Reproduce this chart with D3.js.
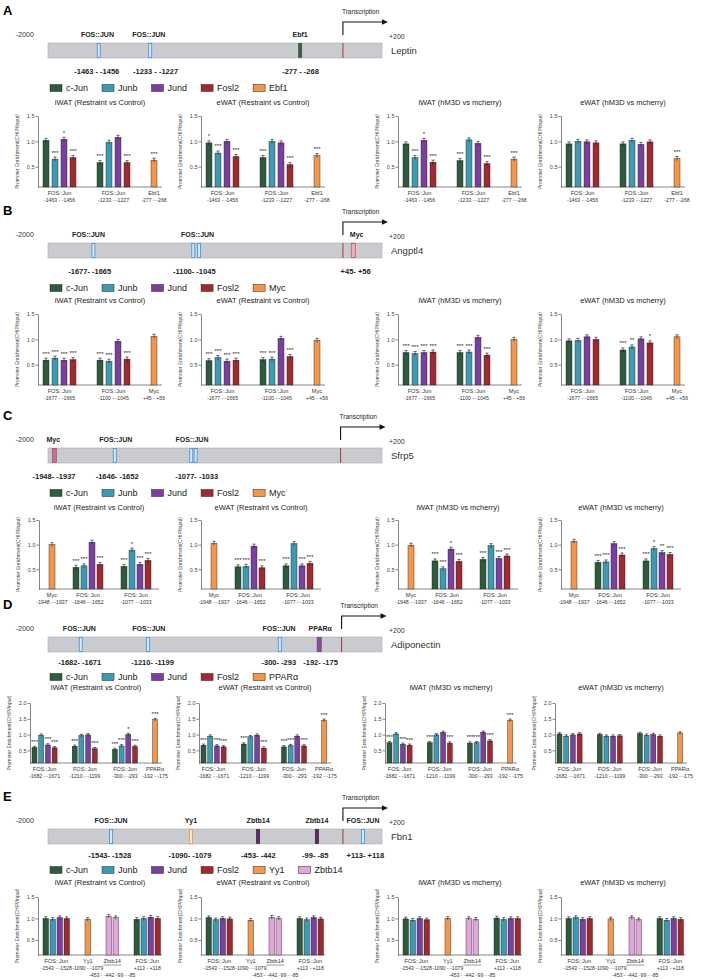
<!DOCTYPE html>
<html><head><meta charset="utf-8">
<script src="https://cdn.jsdelivr.net/npm/d3@7"></script>
<style>body{margin:0;background:#fff}svg{display:block}</style>
</head><body>
<svg id="fig" width="709" height="980"></svg>
<script>
// ================= DATA =================
const chartTitles = ["iWAT (Restraint vs Control)","eWAT (Restraint vs Control)","iWAT (hM3D vs mcherry)","eWAT (hM3D vs mcherry)"];
const yLabel = "Promoter Enrichment(CHIP/Input)";

// ---- A: Leptin ----
const leptinLegend = ["c-Jun","Junb","Jund","Fosl2","Ebf1"];
const leptinMarkAt = [0.152,0.306,0.755];
const leptinMarkType = ["FOS","FOS","Ebf1"];
const leptinSiteNames = ["FOS::JUN","FOS::JUN","Ebf1"];
const leptinSiteAt = [0.148,0.302,0.755];
const leptinSiteCoords = ["-1463 - -1456","-1233 - -1227","-277 - -268"];
const leptinCoordAt = [0.146,0.322,0.756];
const leptinGroupNames = ["FOS::Jun","FOS::Jun","Ebf1"];
const leptinGroupCoords = ["-1463 - -1456","-1233 - -1227","-277 - -268"];
const leptinBarSeries = ["c-Jun","Junb","Jund","Fosl2","c-Jun","Junb","Jund","Fosl2","Ebf1"];
const leptinBarGroup = [0,0,0,0,1,1,1,1,2];
const leptinValues = [
  [1.02,0.65,1.04,0.68, 0.58,0.98,1.08,0.58, 0.63],
  [0.97,0.77,1.00,0.70, 0.68,1.00,0.97,0.54, 0.72],
  [0.95,0.68,1.02,0.59, 0.62,1.03,0.96,0.56, 0.65],
  [0.95,1.00,0.99,0.97, 0.95,1.02,0.94,0.99, 0.66]];
const leptinStars = [
  ["","***","*","***", "***","","","***", "***"],
  ["*","***","","***", "***","","","***", "***"],
  ["","***","*","***", "***","","","***", "***"],
  ["","","","", "","","","", "***"]];

// ---- B: Angptl4 ----
const angptl4Legend = ["c-Jun","Junb","Jund","Fosl2","Myc"];
const angptl4MarkAt = [0.136,0.435,0.452,0.914];
const angptl4MarkType = ["FOS","FOS","FOS","Myc"];
const angptl4SiteNames = ["FOS::JUN","FOS::JUN","Myc"];
const angptl4SiteAt = [0.121,0.448,0.924];
const angptl4SiteCoords = ["-1677- -1665","-1100- -1045","+45- +56"];
const angptl4CoordAt = [0.125,0.438,0.921];
const angptl4GroupNames = ["FOS::Jun","FOS::Jun","Myc"];
const angptl4GroupCoords = ["-1677 - -1665","-1100 - -1045","+45 - +56"];
const angptl4BarSeries = ["c-Jun","Junb","Jund","Fosl2","c-Jun","Junb","Jund","Fosl2","Myc"];
const angptl4BarGroup = [0,0,0,0,1,1,1,1,2];
const angptl4Values = [
  [0.59,0.63,0.59,0.60, 0.59,0.57,0.96,0.61, 1.06],
  [0.58,0.64,0.57,0.59, 0.60,0.61,1.02,0.66, 0.98],
  [0.74,0.72,0.74,0.75, 0.74,0.75,1.04,0.69, 1.00],
  [0.97,0.98,1.05,1.00, 0.79,0.85,1.01,0.93, 1.05]];
const angptl4Stars = [
  ["***","***","***","***","***","***","","***",""],
  ["***","***","***","***","***","***","","***",""],
  ["***","***","***","***","***","***","","***",""],
  ["","","","","***","**","","*",""]];

// ---- C: Sfrp5 ----
const sfrp5Legend = ["c-Jun","Junb","Jund","Fosl2","Myc"];
const sfrp5MarkAt = [0.019,0.200,0.429,0.442];
const sfrp5MarkType = ["Myc2","FOS","FOS","FOS"];
const sfrp5SiteNames = ["Myc","FOS::JUN","FOS::JUN"];
const sfrp5SiteAt = [0.016,0.203,0.431];
const sfrp5SiteCoords = ["-1948- -1937","-1646- -1652","-1077- -1033"];
const sfrp5CoordAt = [0.018,0.207,0.445];
const sfrp5GroupNames = ["Myc","FOS::Jun","FOS::Jun"];
const sfrp5GroupCoords = ["-1948 - -1937","-1646 - -1652","-1077 - -1033"];
const sfrp5BarSeries = ["Myc","c-Jun","Junb","Jund","Fosl2","c-Jun","Junb","Jund","Fosl2"];
const sfrp5BarGroup = [0,1,1,1,1,2,2,2,2];
const sfrp5Values = [
  [1.00, 0.54,0.57,1.05,0.60, 0.56,0.89,0.60,0.68],
  [1.03, 0.55,0.56,0.97,0.53, 0.57,1.02,0.57,0.62],
  [0.99, 0.67,0.51,0.91,0.66, 0.70,0.98,0.72,0.77],
  [1.07, 0.64,0.65,1.02,0.79, 0.67,0.92,0.84,0.80]];
const sfrp5Stars = [
  ["","***","***","","***","***","*","***","***"],
  ["","***","***","","***","***","","***","***"],
  ["","***","***","*","***","***","","***","***"],
  ["","***","***","","***","***","*","**","***"]];

// ---- D: Adiponectin ----
const adipoLegend = ["c-Jun","Junb","Jund","Fosl2","PPARα"];
const adipoMarkAt = [0.098,0.299,0.694,0.812];
const adipoMarkType = ["FOS","FOS","FOS","PPAR"];
const adipoSiteNames = ["FOS::JUN","FOS::JUN","FOS::JUN","PPARα"];
const adipoSiteAt = [0.094,0.302,0.692,0.815];
const adipoSiteCoords = ["-1682- -1671","-1210- -1199","-300- -293","-192- -175"];
const adipoCoordAt = [0.095,0.313,0.691,0.816];
const adipoGroupNames = ["FOS::Jun","FOS::Jun","FOS::Jun","PPARα"];
const adipoGroupCoords = ["-1682 - -1671","-1210 - -1199","-300 - -293","-192 - -175"];
const adipoBarSeries = ["c-Jun","Junb","Jund","Fosl2","c-Jun","Junb","Jund","Fosl2","c-Jun","Junb","Jund","Fosl2","PPARα"];
const adipoBarGroup = [0,0,0,0,1,1,1,1,2,2,2,2,3];
const adipoValues = [
  [0.59,0.98,0.67,0.58, 0.63,0.97,0.99,0.55, 0.53,0.64,1.00,0.62, 1.47],
  [0.66,0.95,0.64,0.61, 0.70,0.93,0.98,0.57, 0.61,0.65,0.95,0.64, 1.45],
  [0.74,1.02,0.69,0.66, 0.74,0.99,1.07,0.73, 0.73,0.74,1.07,0.80, 1.45],
  [1.02,0.95,0.99,1.02, 1.00,0.95,0.95,0.96, 1.03,0.98,1.00,0.95, 1.05]];
const adipoStars = [
  ["***","","***","***","***","","","***","***","***","*","***","***"],
  ["***","","***","***","***","","","***","***","***","","***","***"],
  ["***","","***","***","***","","","***","***","***","","***","***"],
  ["","","","","","","","","","","","",""]];

// ---- E: Fbn1 ----
const fbn1Legend = ["c-Jun","Junb","Jund","Fosl2","Yy1","Zbtb14"];
const fbn1MarkAt = [0.189,0.428,0.629,0.805,0.943];
const fbn1MarkType = ["FOS","Yy1","Zbtb","Zbtb","FOS"];
const fbn1SiteNames = ["FOS::JUN","Yy1","Zbtb14","Zbtb14","FOS::JUN"];
const fbn1SiteAt = [0.189,0.428,0.629,0.805,0.943];
const fbn1SiteCoords = ["-1543- -1528","-1090- -1079","-453- -442","-99- -85","+113- +118"];
const fbn1CoordAt = [0.185,0.425,0.630,0.800,0.950];
const fbn1GroupNames = ["FOS::Jun","Yy1","Zbtb14","FOS::Jun"];
const fbn1GroupCoords = ["-1543 - -1528","-1090 - -1079","-453 - -442  -99 - -85","+113 - +118"];
const fbn1GroupUnderline = [false,false,true,false];
const fbn1BarSeries = ["c-Jun","Junb","Jund","Fosl2","Yy1","Zbtb14","Zbtb14","c-Jun","Junb","Jund","Fosl2"];
const fbn1BarGroup = [0,0,0,0,1,2,2,3,3,3,3];
const fbn1Values = [
  [1.00,0.98,1.02,1.00, 0.98, 1.05,1.02, 0.98,1.00,1.03,1.00],
  [1.02,0.97,1.00,0.99, 0.96, 1.03,1.00, 1.00,0.97,1.02,0.99],
  [0.99,0.96,1.00,0.97, 1.00, 1.00,0.98, 1.01,0.98,1.00,1.00],
  [1.00,1.02,0.98,1.00, 0.99, 1.02,0.97, 1.00,0.96,1.00,0.98]];
const fbn1Stars = [[],[],[],[]];

// ================= STYLE / LAYOUT =================
const svg = d3.select("#fig");
const FONT = "'Liberation Sans', Arial, sans-serif";
const NARROW = "'Liberation Sans Narrow', 'Liberation Sans', Arial, sans-serif";
svg.attr("font-family", FONT);

const colorOf = {"c-Jun":"#2e5b3d","Junb":"#3c9bb3","Jund":"#7a3f9f","Fosl2":"#a02a30",
  "Ebf1":"#f5964a","Myc":"#f5964a","PPARα":"#f5964a","Yy1":"#f5964a","Zbtb14":"#e3a6da"};
const markStyle = {
  FOS:{w:3,fill:"#d3e8f8",stroke:"#3e8ed6"},
  Ebf1:{w:3,fill:"#3c5a45",stroke:"#3c5a45"},
  Myc:{w:4,fill:"#eab0bf",stroke:"#c64f6d"},
  Myc2:{w:4,fill:"#c8708f",stroke:"#a8506f"},
  PPAR:{w:4,fill:"#8d4b9b",stroke:"#7a3a88"},
  Yy1:{w:3,fill:"#fde4c8",stroke:"#f0953c"},
  Zbtb:{w:3,fill:"#5b2c5f",stroke:"#4a1f4e"}};
const ERR = 0.04;

function drawSchematic(s){
  const g = svg.append("g");
  const x = d3.scaleLinear().domain([0,1]).range([48,382]);
  const by = s.barTop, bh = 15;
  g.append("text").attr("x",3).attr("y",by-28).attr("font-weight","bold").attr("font-size",13).text(s.letter);
  const tx = x(s.tssAt);
  g.append("text").attr("x",tx-1).attr("y",by-29).attr("font-size",6.5).attr("fill","#222").text("Transcription");
  g.append("path").attr("d",`M${tx},${by-8}V${by-21}H${tx+40}`).attr("fill","none").attr("stroke","#111").attr("stroke-width",1.1);
  g.append("path").attr("d",`M${tx+45},${by-21}l-6,-2.8v5.6z`).attr("fill","#111");
  g.append("text").attr("x",16).attr("y",by-6).attr("font-size",7).attr("fill","#333").text("-2000");
  g.append("text").attr("x",389).attr("y",by-4).attr("font-size",7).attr("fill","#333").text("+200");
  g.append("rect").attr("x",x(0)).attr("y",by).attr("width",x(1)-x(0)).attr("height",bh)
    .attr("fill","#c9cbce").attr("stroke","#a9acb0").attr("stroke-width",0.6);
  s.markAt.forEach((m,i)=>{
    const st = markStyle[s.markType[i]];
    g.append("rect").attr("x",x(m)-st.w/2).attr("y",by+0.5).attr("width",st.w).attr("height",bh-1)
      .attr("fill",st.fill).attr("stroke",st.stroke).attr("stroke-width",0.8);
  });
  g.append("line").attr("x1",tx).attr("x2",tx).attr("y1",by).attr("y2",by+bh).attr("stroke","#b3303c").attr("stroke-width",1);
  g.append("text").attr("x",391).attr("y",by+11).attr("font-size",9.5).attr("fill","#333").text(s.gene);
  s.siteNames.forEach((t,i)=>{
    g.append("text").attr("x",x(s.siteAt[i])).attr("y",by-6).attr("text-anchor","middle")
      .attr("font-family",NARROW).attr("font-weight","bold").attr("font-size",7).attr("fill","#222").text(t);
  });
  s.siteCoords.forEach((t,i)=>{
    g.append("text").attr("x",x(s.coordAt[i])).attr("y",by+s.coordDy).attr("text-anchor","middle")
      .attr("font-family",NARROW).attr("font-weight","bold").attr("font-size",7.5).attr("fill","#222").text(t);
  });
  let lx = 50; const cy = by+s.legendDy;
  s.legend.forEach(name=>{
    g.append("rect").attr("x",lx).attr("y",cy-3.5).attr("width",12).attr("height",7)
      .attr("fill",colorOf[name]).attr("stroke","#222").attr("stroke-width",0.5);
    const t = g.append("text").attr("x",lx+16).attr("y",cy+3.3).attr("font-size",9).attr("fill","#222").text(name);
    lx += 16 + t.node().getComputedTextLength() + 14;
  });
}

function drawCharts(c){
  c.axes.forEach((ax,ci)=>{
    const g = svg.append("g");
    const y = d3.scaleLinear().domain(c.yDomain).range([c.baseY,c.topY]);
    const nS = d3.max(c.slots);
    const xs = d3.scaleLinear().domain([0,nS]).range([ax+c.pad, ax+c.pad+nS*c.step]);
    g.append("text").attr("x",ax+c.plotW/2).attr("y",c.titleY).attr("text-anchor","middle")
      .attr("font-size",7.5).attr("fill","#222").text(chartTitles[ci]);
    const yAx = d3.axisLeft(y).tickValues(c.ticks).tickFormat(d3.format(".1f")).tickSize(2.5).tickSizeOuter(0);
    const ya = g.append("g").attr("transform",`translate(${ax},0)`).call(yAx);
    ya.select(".domain").attr("stroke","#333").attr("stroke-width",0.6);
    ya.selectAll(".tick line").attr("stroke","#333").attr("stroke-width",0.6);
    ya.selectAll(".tick text").attr("font-size",5.5).attr("fill","#444").attr("font-family",FONT).attr("x",-3.5);
    g.append("text").attr("transform",`translate(${ax-19},${(c.baseY+c.topY)/2}) rotate(-90)`)
      .attr("text-anchor","middle").attr("font-size",5).attr("fill","#444").text(yLabel);
    g.append("line").attr("x1",ax).attr("x2",ax+c.plotW).attr("y1",c.baseY).attr("y2",c.baseY)
      .attr("stroke","#333").attr("stroke-width",0.6);
    const vals = c.values[ci], stars = c.stars[ci] || [];
    vals.forEach((v,i)=>{
      const x0 = xs(c.slots[i]);
      g.append("rect").attr("x",x0).attr("y",y(v)).attr("width",c.barW).attr("height",c.baseY-y(v))
        .attr("fill",colorOf[c.series[i]]).attr("stroke","#1a1a1a").attr("stroke-width",0.4);
      const xm = x0 + c.barW/2;
      g.append("line").attr("x1",xm).attr("x2",xm).attr("y1",y(v-ERR)).attr("y2",y(v+ERR)).attr("stroke","#111").attr("stroke-width",0.6);
      g.append("line").attr("x1",xm-1.6).attr("x2",xm+1.6).attr("y1",y(v+ERR)).attr("y2",y(v+ERR)).attr("stroke","#111").attr("stroke-width",0.6);
      if (stars[i]) g.append("text").attr("x",xm).attr("y",y(v+ERR)-2.5).attr("text-anchor","middle")
        .attr("font-size",6).attr("fill","#222").text(stars[i]);
    });
    c.groupNames.forEach((name,gi)=>{
      const idx = c.group.map((gg,i)=>gg===gi?i:-1).filter(i=>i>=0);
      const cx = d3.mean(idx, i=>xs(c.slots[i])+c.barW/2);
      g.append("text").attr("x",cx).attr("y",c.labY[0]).attr("text-anchor","middle").attr("font-size",5.6).attr("fill","#333").text(name);
      const under = c.underline && c.underline[gi];
      if (under){
        g.append("line").attr("x1",cx-9).attr("x2",cx+9).attr("y1",c.labY[0]+2).attr("y2",c.labY[0]+2).attr("stroke","#333").attr("stroke-width",0.5);
        g.append("text").attr("x",cx).attr("y",c.labY[2]).attr("text-anchor","middle").attr("font-size",5.2).attr("fill","#333").text(c.groupCoords[gi]);
      } else {
        g.append("text").attr("x",cx).attr("y",c.labY[1]).attr("text-anchor","middle").attr("font-size",5.2).attr("fill","#333").text(c.groupCoords[gi]);
      }
    });
  });
}

// ---- panel A
drawSchematic({letter:"A",gene:"Leptin",barTop:43,tssAt:0.883,coordDy:31,legendDy:45,markAt:leptinMarkAt,markType:leptinMarkType,
  siteNames:leptinSiteNames,siteAt:leptinSiteAt,siteCoords:leptinSiteCoords,coordAt:leptinCoordAt,legend:leptinLegend});
drawCharts({axes:[38,201,398,561],plotW:124,pad:5,step:9,barW:6,slots:[0,1,2,3,6,7,8,9,12],
  titleY:105,yDomain:[0.1,1.5],baseY:187,topY:116,ticks:[0.5,1.0,1.5],labY:[195,202],
  values:leptinValues,stars:leptinStars,series:leptinBarSeries,group:leptinBarGroup,
  groupNames:leptinGroupNames,groupCoords:leptinGroupCoords});

// ---- panel B
drawSchematic({letter:"B",gene:"Angptl4",barTop:243,tssAt:0.883,coordDy:31,legendDy:45,markAt:angptl4MarkAt,markType:angptl4MarkType,
  siteNames:angptl4SiteNames,siteAt:angptl4SiteAt,siteCoords:angptl4SiteCoords,coordAt:angptl4CoordAt,legend:angptl4Legend});
drawCharts({axes:[38,201,398,561],plotW:124,pad:5,step:9,barW:6,slots:[0,1,2,3,6,7,8,9,12],
  titleY:303,yDomain:[0.1,1.5],baseY:385,topY:314,ticks:[0.5,1.0,1.5],labY:[393,400],
  values:angptl4Values,stars:angptl4Stars,series:angptl4BarSeries,group:angptl4BarGroup,
  groupNames:angptl4GroupNames,groupCoords:angptl4GroupCoords});

// ---- panel C
drawSchematic({letter:"C",gene:"Sfrp5",barTop:448,tssAt:0.876,coordDy:31,legendDy:45,markAt:sfrp5MarkAt,markType:sfrp5MarkType,
  siteNames:sfrp5SiteNames,siteAt:sfrp5SiteAt,siteCoords:sfrp5SiteCoords,coordAt:sfrp5CoordAt,legend:sfrp5Legend});
drawCharts({axes:[39,201,398,561],plotW:120,pad:10,step:8,barW:6,slots:[0,3,4,5,6,9,10,11,12],
  titleY:510,yDomain:[0.1,1.5],baseY:589,topY:520,ticks:[0.5,1.0,1.5],labY:[597,604],
  values:sfrp5Values,stars:sfrp5Stars,series:sfrp5BarSeries,group:sfrp5BarGroup,
  groupNames:sfrp5GroupNames,groupCoords:sfrp5GroupCoords});

// ---- panel D
drawSchematic({letter:"D",gene:"Adiponectin",barTop:637,tssAt:0.879,coordDy:28,legendDy:40,markAt:adipoMarkAt,markType:adipoMarkType,
  siteNames:adipoSiteNames,siteAt:adipoSiteAt,siteCoords:adipoSiteCoords,coordAt:adipoCoordAt,legend:adipoLegend});
drawCharts({axes:[30,199,385,555],plotW:132,pad:2,step:6.7,barW:5,slots:[0,1,2,3,6,7,8,9,12,13,14,15,18],
  titleY:690,yDomain:[0.1,2.0],baseY:763,topY:703,ticks:[0.5,1.0,1.5,2.0],labY:[771,778],
  values:adipoValues,stars:adipoStars,series:adipoBarSeries,group:adipoBarGroup,
  groupNames:adipoGroupNames,groupCoords:adipoGroupCoords});

// ---- panel E
drawSchematic({letter:"E",gene:"Fbn1",barTop:829,tssAt:0.883,coordDy:29,legendDy:41,markAt:fbn1MarkAt,markType:fbn1MarkType,
  siteNames:fbn1SiteNames,siteAt:fbn1SiteAt,siteCoords:fbn1SiteCoords,coordAt:fbn1CoordAt,legend:fbn1Legend});
drawCharts({axes:[38,201,398,561],plotW:124,pad:5,step:7,barW:5.5,slots:[0,1,2,3,6,9,10,13,14,15,16],
  titleY:885,yDomain:[0.15,1.5],baseY:955,topY:897,ticks:[0.5,1.0,1.5],labY:[963,970,977],
  values:fbn1Values,stars:fbn1Stars,series:fbn1BarSeries,group:fbn1BarGroup,
  groupNames:fbn1GroupNames,groupCoords:fbn1GroupCoords,underline:fbn1GroupUnderline});
</script>
</body></html>
